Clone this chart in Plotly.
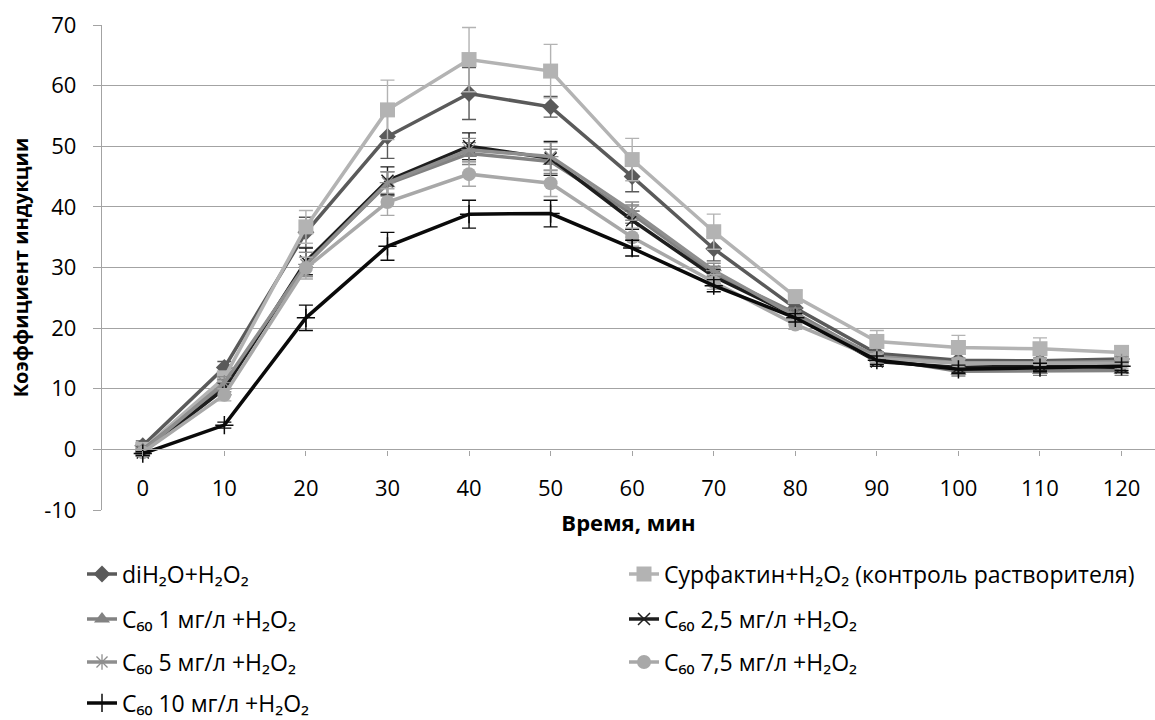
import plotly.graph_objects as go

# Время инкубации, мин
minutes = [0, 10, 20, 30, 40, 50, 60, 70, 80, 90, 100, 110, 120]

# Коэффициент индукции по вариантам (среднее и ошибка)
di_h2o = [0.6, 13.5, 35.8, 51.6, 58.7, 56.5, 45.0, 33.1, 23.3, 15.8, 14.7, 14.6, 14.9]
di_h2o_err = [0.8, 1.0, 2.5, 3.6, 4.3, 1.7, 2.5, 2.0, 1.0, 1.0, 1.0, 1.0, 1.0]

surfactin = [0.0, 11.8, 36.7, 56.0, 64.3, 62.4, 47.8, 35.9, 25.2, 17.8, 16.8, 16.6, 16.0]
surfactin_err = [0.9, 1.0, 2.7, 4.9, 5.3, 4.4, 3.5, 2.9, 1.0, 1.8, 2.0, 1.8, 1.0]

c60_1 = [0.0, 10.5, 30.5, 43.8, 48.8, 47.5, 38.8, 29.0, 22.5, 15.0, 12.9, 13.0, 13.0]
c60_1_err = [0.5, 1.0, 2.0, 2.0, 1.8, 2.0, 1.5, 1.2, 0.8, 0.8, 0.8, 0.8, 0.8]

c60_2_5 = [-0.5, 10.0, 31.0, 44.3, 50.0, 48.0, 37.8, 28.5, 22.0, 14.5, 13.5, 13.8, 13.5]
c60_2_5_err = [0.5, 1.0, 2.2, 2.3, 2.2, 2.8, 1.5, 1.2, 0.8, 0.8, 0.8, 0.8, 0.8]

c60_5 = [-0.3, 11.0, 30.5, 44.0, 49.4, 48.3, 39.3, 29.5, 22.0, 15.3, 14.3, 14.3, 14.5]
c60_5_err = [0.5, 1.0, 2.0, 1.8, 1.9, 2.3, 1.5, 1.2, 0.8, 0.8, 0.8, 0.8, 0.8]

c60_7_5 = [-0.5, 9.0, 29.9, 40.8, 45.4, 43.9, 35.0, 27.6, 20.6, 15.0, 14.2, 14.2, 14.2]
c60_7_5_err = [0.5, 1.0, 1.8, 2.2, 2.0, 2.2, 1.5, 1.2, 0.8, 0.8, 0.8, 0.8, 0.8]

c60_10 = [-0.7, 4.0, 21.7, 33.5, 38.8, 38.9, 33.2, 27.0, 21.7, 14.7, 13.2, 13.5, 13.7]
c60_10_err = [0.3, 0.5, 2.1, 2.3, 2.3, 2.2, 1.3, 1.0, 0.7, 0.7, 0.7, 0.7, 0.7]

series_names = [
    "diH₂O+H₂O₂",
    "Сурфактин+H₂O₂ (контроль растворителя)",
    "C₆₀ 1 мг/л +H₂O₂",
    "C₆₀ 2,5 мг/л +H₂O₂",
    "C₆₀ 5 мг/л +H₂O₂",
    "C₆₀ 7,5 мг/л +H₂O₂",
    "C₆₀ 10 мг/л +H₂O₂",
]

y_tick_values = [-10, 0, 10, 20, 30, 40, 50, 60, 70]
y_tick_labels = ["-10", "0", "10", "20", "30", "40", "50", "60", "70"]
x_tick_labels = [str(m) for m in minutes]

FONT = "Open Sans, Noto Sans, sans-serif"
GRID = "#a3a3a3"

# series styles: (values, errors, colour, marker symbol, marker size, marker line width)
styles = [
    (di_h2o, di_h2o_err, "#5a5a5a", "diamond", 13, 0),
    (surfactin, surfactin_err, "#b3b3b3", "square", 15, 0),
    (c60_1, c60_1_err, "#828282", "triangle-up", 14, 0),
    (c60_2_5, c60_2_5_err, "#1e1e1e", "x-thin", 12, 1.5),
    (c60_5, c60_5_err, "#8e8e8e", "asterisk-open", 13, 1.3),
    (c60_7_5, c60_7_5_err, "#a8a8a8", "circle", 14, 0),
    (c60_10, c60_10_err, "#0a0a0a", "cross-thin", 13, 1.5),
]

fig = go.Figure()
for i, (name, (vals, errs, col, sym, size, mlw)) in enumerate(zip(series_names, styles)):
    marker = dict(symbol=sym, size=size, color=col)
    if mlw:
        marker["line"] = dict(color=col, width=mlw)
    else:
        marker["line"] = dict(width=0)
    fig.add_trace(go.Scatter(
        x=minutes, y=vals, name=name, mode="lines+markers",
        line=dict(color=col, width=3.5),
        marker=marker,
        error_y=dict(type="data", array=errs, visible=True,
                     color=col, thickness=1.4, width=7),
        legend="legend" if i == 0 else f"legend{i + 1}",
    ))

# plot area in pixels: left 102, right 1155, top 25, bottom 510
L, R, T, B = 102, 1155, 25, 510
W_PLOT, H_PLOT = R - L, B - T

def px_x(p):
    return (p - L) / W_PLOT

def px_y(p):
    return (B - p) / H_PLOT

# legend: two columns, four rows
legend_cols = [82, 624]
legend_rows = [574, 619, 662, 703]
legend_layout = {}
for i in range(len(series_names)):
    key = "legend" if i == 0 else f"legend{i + 1}"
    legend_layout[key] = dict(
        x=px_x(legend_cols[i % 2]), y=px_y(legend_rows[i // 2]),
        xanchor="left", yanchor="middle",
        bgcolor="rgba(0,0,0,0)", borderwidth=0,
        font=dict(family=FONT, size=23, color="#000000"),
        itemwidth=30,
    )

fig.update_layout(
    width=1155, height=720,
    margin=dict(l=L, r=1155 - R, t=T, b=720 - B, autoexpand=False),
    paper_bgcolor="white", plot_bgcolor="white",
    font=dict(family=FONT, color="#000000"),
    showlegend=True,
    **legend_layout,
    xaxis=dict(
        range=[-5, 124.1],
        tickmode="array", tickvals=minutes, ticktext=x_tick_labels,
        anchor="free", position=10 / 80,
        showline=True, linecolor=GRID, linewidth=1.3,
        ticks="outside", ticklen=5, tickcolor=GRID, tickwidth=1.3,
        showgrid=False, zeroline=False,
        tickfont=dict(family=FONT, size=22, color="#000000"),
        ticklabelstandoff=14,
        title=dict(text="<b>Время, мин</b>", standoff=14,
                   font=dict(family=FONT, size=22, color="#000000")),
    ),
    yaxis=dict(
        range=[-10, 70],
        tickmode="array", tickvals=y_tick_values, ticktext=y_tick_labels,
        showline=True, linecolor=GRID, linewidth=1.3,
        ticks="outside", ticklen=8, tickcolor=GRID, tickwidth=1.3,
        showgrid=True, gridcolor=GRID, gridwidth=1.3,
        zeroline=False,
        tickfont=dict(family=FONT, size=22, color="#000000"),
        ticklabelstandoff=12,
        title=dict(text="<b>Коэффициент индукции</b>", standoff=10,
                   font=dict(family=FONT, size=20, color="#000000")),
    ),
)

fig.write_html("out.html")
